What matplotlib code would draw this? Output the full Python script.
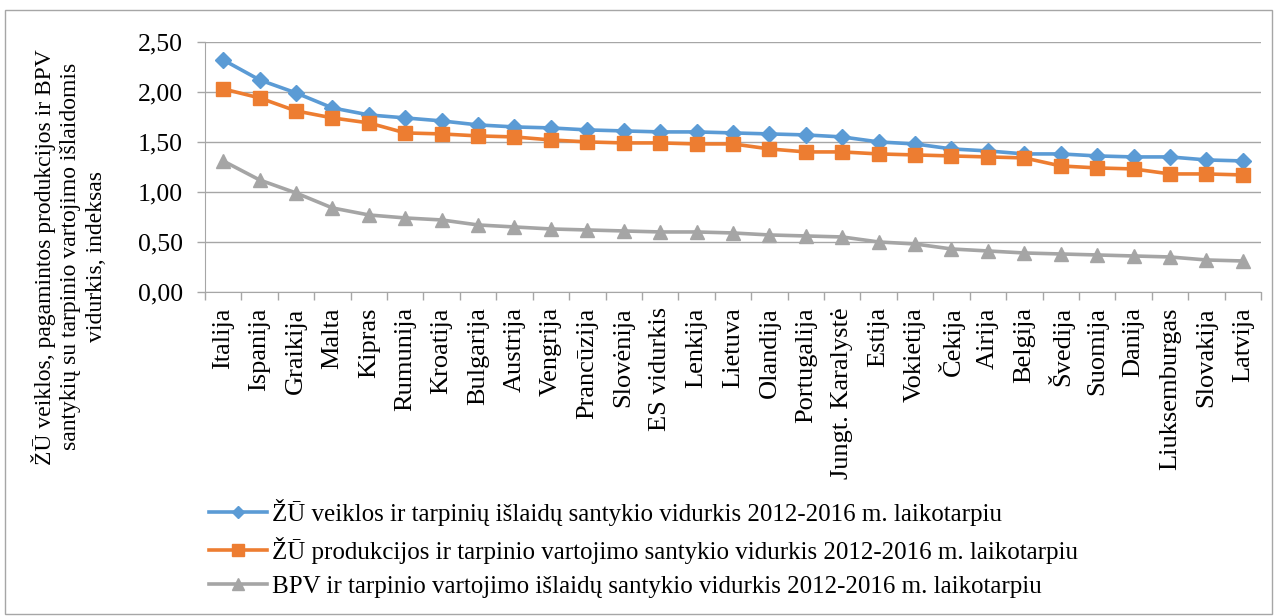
import matplotlib as mpl
import matplotlib.pyplot as plt
import numpy as np
from matplotlib.patches import Rectangle

mpl.rcParams['font.family'] = ['Liberation Serif', 'DejaVu Serif']

countries = ['Italija', 'Ispanija', 'Graikija', 'Malta', 'Kipras', 'Rumunija',
             'Kroatija', 'Bulgarija', 'Austrija', 'Vengrija', 'Prancūzija',
             'Slovėnija', 'ES vidurkis', 'Lenkija', 'Lietuva', 'Olandija',
             'Portugalija', 'Jungt. Karalystė', 'Estija', 'Vokietija', 'Čekija',
             'Airija', 'Belgija', 'Švedija', 'Suomija', 'Danija',
             'Liuksemburgas', 'Slovakija', 'Latvija']

zu_veiklos = [2.32, 2.12, 1.99, 1.84, 1.77, 1.74, 1.71, 1.67, 1.65, 1.64,
              1.62, 1.61, 1.60, 1.60, 1.59, 1.58, 1.57, 1.55, 1.50, 1.48,
              1.43, 1.41, 1.38, 1.38, 1.36, 1.35, 1.35, 1.32, 1.31]
zu_produkcijos = [2.03, 1.94, 1.81, 1.74, 1.69, 1.59, 1.58, 1.56, 1.55, 1.52,
                  1.50, 1.49, 1.49, 1.48, 1.48, 1.43, 1.40, 1.40, 1.38, 1.37,
                  1.36, 1.35, 1.34, 1.26, 1.24, 1.23, 1.18, 1.18, 1.17]
bpv = [1.31, 1.12, 0.99, 0.84, 0.77, 0.74, 0.72, 0.67, 0.65, 0.63,
       0.62, 0.61, 0.60, 0.60, 0.59, 0.57, 0.56, 0.55, 0.50, 0.48,
       0.43, 0.41, 0.39, 0.38, 0.37, 0.36, 0.35, 0.32, 0.31]

labels = ['ŽŪ veiklos ir tarpinių išlaidų santykio vidurkis 2012-2016 m. laikotarpiu',
          'ŽŪ produkcijos ir tarpinio vartojimo santykio vidurkis 2012-2016 m. laikotarpiu',
          'BPV ir tarpinio vartojimo išlaidų santykio vidurkis 2012-2016 m. laikotarpiu']

fig = plt.figure(figsize=(12.77, 6.16), dpi=100)
ax = fig.add_axes([0.1605, 0.526, 0.827, 0.406])

x = np.arange(len(countries))
ax.plot(x, zu_veiklos, color='#5B9BD5', lw=2.6, marker='D', ms=8, label=labels[0])
ax.plot(x, zu_produkcijos, color='#ED7D31', lw=2.6, marker='s', ms=10, label=labels[1])
ax.plot(x, bpv, color='#A5A5A5', lw=2.6, marker='^', ms=10, label=labels[2])

ax.set_xlim(-0.5, len(countries) - 0.5)
ax.set_ylim(0, 2.5)
ax.set_yticks(np.arange(0, 2.51, 0.5))
ax.set_yticklabels([f'{v:.2f}'.replace('.', ',') for v in np.arange(0, 2.51, 0.5)])
ax.set_xticks(x)
ax.set_xticklabels(countries, rotation=90, va='top', ha='center')
ax.set_xticks(np.arange(-0.5, len(countries)), minor=True)
ax.tick_params(axis='x', which='major', length=0, pad=11, labelsize=19)
ax.tick_params(axis='x', which='minor', length=6, color='#A6A6A6', width=1)
ax.tick_params(axis='y', length=6, color='#A6A6A6', width=1, pad=10, labelsize=18.5)

ax.grid(axis='y', color='#A6A6A6', lw=1)
ax.set_axisbelow(True)
for s in ['top', 'right']:
    ax.spines[s].set_visible(False)
for s in ['left', 'bottom']:
    ax.spines[s].set_color('#A6A6A6')

fig.text(0.054, 0.583,
         'ŽŪ veiklos, pagamintos produkcijos ir BPV\n'
         'santykių su tarpinio vartojimo išlaidomis\n'
         'vidurkis, indeksas',
         rotation=90, ha='center', va='center', fontsize=17, linespacing=1.3,
         multialignment='center')

fig.legend(loc='upper left', bbox_to_anchor=(0.164, 0.19), frameon=False,
           fontsize=18, handlelength=2.3, labelspacing=0.45, handletextpad=0.2,
           borderaxespad=0, borderpad=0, markerscale=0.8)

fig.patches.append(Rectangle((0.004, 0.004), 0.992, 0.98, transform=fig.transFigure,
                             fill=False, edgecolor='#A6A6A6', lw=1))

fig.savefig('out.png', dpi=100)
